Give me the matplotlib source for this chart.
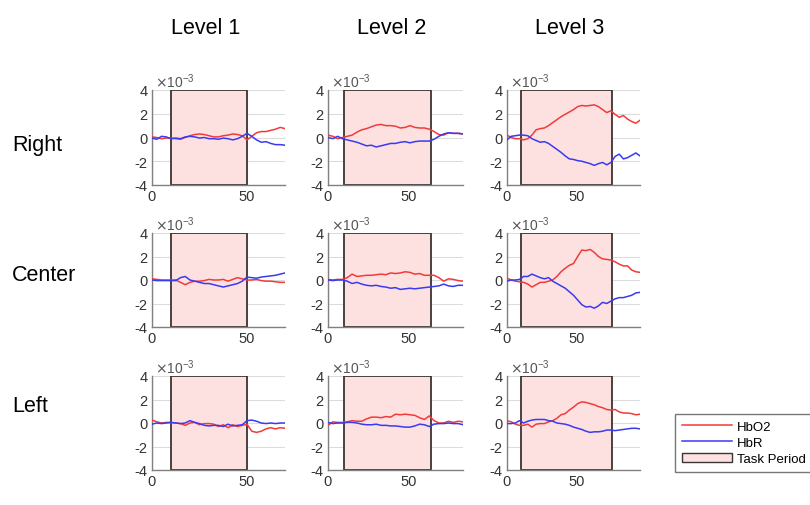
import numpy as np
import matplotlib
matplotlib.use('Agg')
import matplotlib.pyplot as plt
from matplotlib.patches import Rectangle, Patch
from matplotlib.lines import Line2D

plt.rcParams['font.family'] = ['Liberation Sans', 'DejaVu Sans']
plt.rcParams['axes.unicode_minus'] = False

# time grids (s) per level
t1 = np.arange(0, 70.1, 2.5)
t2 = np.arange(0, 84.1, 3)
t3 = np.arange(0, 96.1, 3)
times = [t1, t2, t3]
xmax = [70, 84, 96]
task = [(10, 50), (10, 64), (10, 76)]

levels = ['Level 1', 'Level 2', 'Level 3']
regions = ['Right', 'Center', 'Left']

# values in units of 1e-3
right_hbo = [
    [0.05, 0.0, -0.1, -0.05, -0.05, -0.1, -0.15, 0.0, 0.15, 0.25, 0.3, 0.25, 0.15, 0.05, 0.05,
     0.15, 0.2, 0.3, 0.25, 0.15, -0.2, 0.1, 0.4, 0.5, 0.5, 0.6, 0.7, 0.85, 0.75],
    [0.2, 0.1, -0.1, 0.0, 0.1, 0.2, 0.45, 0.65, 0.75, 0.9, 1.05, 1.1, 1.0, 1.0, 0.95,
     0.8, 0.85, 1.0, 0.85, 0.8, 0.8, 0.7, 0.5, 0.25, 0.2, 0.4, 0.35, 0.35, 0.3],
    [0.2, 0.0, -0.1, -0.1, -0.2, -0.1, 0.2, 0.65, 0.75, 0.8, 1.0, 1.25, 1.5, 1.75, 1.95, 2.15,
     2.35, 2.6, 2.7, 2.65, 2.7, 2.75, 2.6, 2.35, 2.1, 2.25, 1.95, 1.7, 1.85, 1.55, 1.35, 1.2, 1.45],
]
right_hbr = [
    [-0.05, -0.15, 0.1, 0.05, -0.1, -0.05, -0.1, 0.05, 0.1, 0.05, -0.05, 0.0, -0.1, -0.1, -0.15,
     -0.05, -0.1, -0.2, -0.1, 0.1, 0.35, 0.1, -0.2, -0.4, -0.35, -0.5, -0.6, -0.6, -0.65],
    [0.0, -0.1, 0.1, -0.1, -0.2, -0.3, -0.4, -0.55, -0.7, -0.65, -0.8, -0.7, -0.6, -0.5, -0.5,
     -0.4, -0.35, -0.45, -0.35, -0.3, -0.3, -0.3, -0.15, 0.1, 0.3, 0.4, 0.35, 0.35, 0.3],
    [-0.2, 0.1, 0.15, 0.2, 0.2, 0.15, -0.1, -0.25, -0.4, -0.35, -0.5, -0.75, -1.0, -1.25, -1.55, -1.8,
     -1.85, -1.95, -2.0, -2.1, -2.2, -2.35, -2.2, -2.1, -2.3, -2.1, -1.6, -1.4, -1.8, -1.7, -1.5, -1.3, -1.55],
]
center_hbo = [
    [0.1, 0.05, 0.0, 0.0, 0.0, 0.0, -0.2, -0.4, -0.2, -0.1, -0.1, -0.05, 0.05, 0.0, 0.0,
     0.05, -0.1, 0.05, 0.2, 0.1, 0.0, 0.0, 0.05, -0.05, -0.1, -0.1, -0.15, -0.2, -0.2],
    [0.05, 0.0, 0.05, 0.05, 0.2, 0.5, 0.3, 0.35, 0.4, 0.4, 0.45, 0.5, 0.45, 0.6, 0.55,
     0.6, 0.7, 0.65, 0.5, 0.55, 0.4, 0.4, 0.4, 0.2, -0.1, 0.1, 0.05, -0.05, -0.1],
    [0.15, 0.0, -0.1, -0.15, -0.2, -0.35, -0.6, -0.4, -0.2, -0.2, -0.1, 0.0, 0.3, 0.7, 1.0, 1.25,
     1.4, 2.0, 2.55, 2.5, 2.6, 2.35, 2.0, 1.8, 1.75, 1.7, 1.55, 1.35, 1.2, 1.2, 0.85, 0.7, 0.65],
]
center_hbr = [
    [0.0, -0.05, -0.05, -0.05, -0.05, -0.05, 0.2, 0.3, 0.0, -0.1, -0.2, -0.3, -0.3, -0.4, -0.5,
     -0.6, -0.5, -0.4, -0.3, -0.1, 0.25, 0.2, 0.15, 0.25, 0.3, 0.35, 0.4, 0.5, 0.6],
    [0.0, -0.05, 0.0, 0.0, -0.1, -0.3, -0.2, -0.35, -0.45, -0.5, -0.45, -0.55, -0.6, -0.7, -0.65,
     -0.8, -0.75, -0.7, -0.75, -0.7, -0.65, -0.6, -0.55, -0.5, -0.35, -0.5, -0.55, -0.45, -0.45],
    [-0.1, 0.0, 0.0, 0.05, 0.3, 0.3, 0.5, 0.35, 0.2, 0.1, 0.2, -0.1, -0.3, -0.5, -0.7, -1.0,
     -1.3, -1.7, -2.1, -2.3, -2.25, -2.4, -2.2, -1.9, -2.0, -1.8, -1.6, -1.5, -1.5, -1.4, -1.3, -1.1, -1.05],
]
left_hbo = [
    [0.25, 0.1, 0.0, 0.05, 0.05, 0.0, -0.05, -0.2, 0.0, 0.05, -0.15, -0.05, -0.05, -0.1, -0.3,
     -0.15, -0.4, -0.15, -0.3, -0.2, -0.1, -0.7, -0.8, -0.7, -0.5, -0.4, -0.5, -0.4, -0.45],
    [-0.2, 0.1, 0.05, 0.05, 0.1, 0.2, 0.15, 0.15, 0.35, 0.5, 0.5, 0.45, 0.55, 0.5, 0.75,
     0.7, 0.75, 0.7, 0.65, 0.45, 0.3, 0.6, 0.2, 0.0, 0.0, 0.15, 0.05, 0.15, 0.1],
    [0.2, 0.1, -0.1, -0.2, -0.2, -0.1, -0.35, -0.1, -0.05, -0.05, 0.1, 0.2, 0.4, 0.7, 0.8, 1.1,
     1.35, 1.65, 1.8, 1.75, 1.65, 1.55, 1.4, 1.3, 1.15, 1.1, 1.15, 0.95, 0.85, 0.85, 0.8, 0.7, 0.75],
]
left_hbr = [
    [-0.1, 0.0, -0.05, 0.0, 0.05, 0.0, -0.05, 0.0, 0.2, 0.05, -0.05, -0.2, -0.25, -0.2, -0.2,
     -0.3, -0.1, -0.25, -0.2, -0.15, 0.2, 0.25, 0.15, 0.0, -0.05, 0.0, -0.05, 0.0, 0.0],
    [0.05, -0.05, 0.0, 0.0, 0.05, 0.05, 0.0, -0.1, -0.15, -0.15, -0.1, -0.2, -0.2, -0.25, -0.25,
     -0.3, -0.35, -0.35, -0.25, -0.1, -0.15, -0.3, -0.1, -0.05, -0.05, 0.0, -0.05, -0.05, -0.15],
    [-0.05, -0.05, 0.0, 0.2, 0.0, 0.15, 0.25, 0.3, 0.3, 0.3, 0.2, 0.15, 0.0, -0.05, -0.1, -0.2,
     -0.35, -0.45, -0.55, -0.7, -0.8, -0.75, -0.75, -0.7, -0.6, -0.6, -0.65, -0.6, -0.55, -0.5, -0.45, -0.45, -0.5],
]
hbo = [right_hbo, center_hbo, left_hbo]
hbr = [right_hbr, center_hbr, left_hbr]

RED = '#f23a3a'
BLUE = '#3a3af2'
PINK = '#fde1e1'

W, H = 810, 506
fig = plt.figure(figsize=(W / 100, H / 100), dpi=100)

col_px = [(152, 285), (328, 463), (507, 640)]
row_px = [(91, 186), (234, 328), (377, 471)]

for r in range(3):
    for c in range(3):
        x0, x1 = col_px[c]
        y0, y1 = row_px[r]
        ax = fig.add_axes([x0 / W, 1 - y1 / H, (x1 - x0) / W, (y1 - y0) / H])
        t = times[c]
        a, b = task[c]
        ax.add_patch(Rectangle((a, -4), b - a, 8, facecolor=PINK, edgecolor='#3c3434',
                               lw=1.3, zorder=1))
        ax.plot(t, np.array(hbo[r][c]), color=RED, lw=1.1, zorder=3)
        ax.plot(t, np.array(hbr[r][c]), color=BLUE, lw=1.1, zorder=3)
        ax.set_xlim(0, xmax[c])
        ax.set_ylim(-4, 4)
        ax.set_yticks([-4, -2, 0, 2, 4])
        ax.set_xticks([0, 50])
        ax.grid(True, color='#dcdcdc', lw=0.8, zorder=0)
        ax.set_axisbelow(True)
        for s in ['top', 'right']:
            ax.spines[s].set_visible(False)
        for s in ['left', 'bottom']:
            ax.spines[s].set_color('#808080')
            ax.spines[s].set_linewidth(1.0)
        ax.tick_params(length=0, labelsize=10.5, colors='#333333', pad=3)
        ax.text(0.02, 1.0, r'$\times\mathregular{10^{-3}}$', transform=ax.transAxes,
                fontsize=10, color='#555555', ha='left', va='bottom')

# column titles
for c, lab in enumerate(levels):
    cx = [206, 392, 570][c]
    fig.text(cx / W, 1 - 28 / H, lab, ha='center', va='center', fontsize=15.5)

# row labels
for r, lab in enumerate(regions):
    cy = [146, 276, 407][r]
    fig.text(12 / W, 1 - cy / H, lab, ha='left', va='center', fontsize=15.5)

handles = [Line2D([0], [0], color=RED, lw=1.1),
           Line2D([0], [0], color=BLUE, lw=1.1),
           Patch(facecolor=PINK, edgecolor='#3c3434')]
fig.legend(handles, ['HbO2', 'HbR', 'Task Period'], loc='upper left',
           bbox_to_anchor=(675 / W, 1 - 415 / H), fontsize=9.5, frameon=True,
           fancybox=False, edgecolor='#555555', handlelength=3.8, labelspacing=0.3,
           borderpad=0.5, handletextpad=0.4, borderaxespad=0)

fig.savefig('out.png', dpi=100)
